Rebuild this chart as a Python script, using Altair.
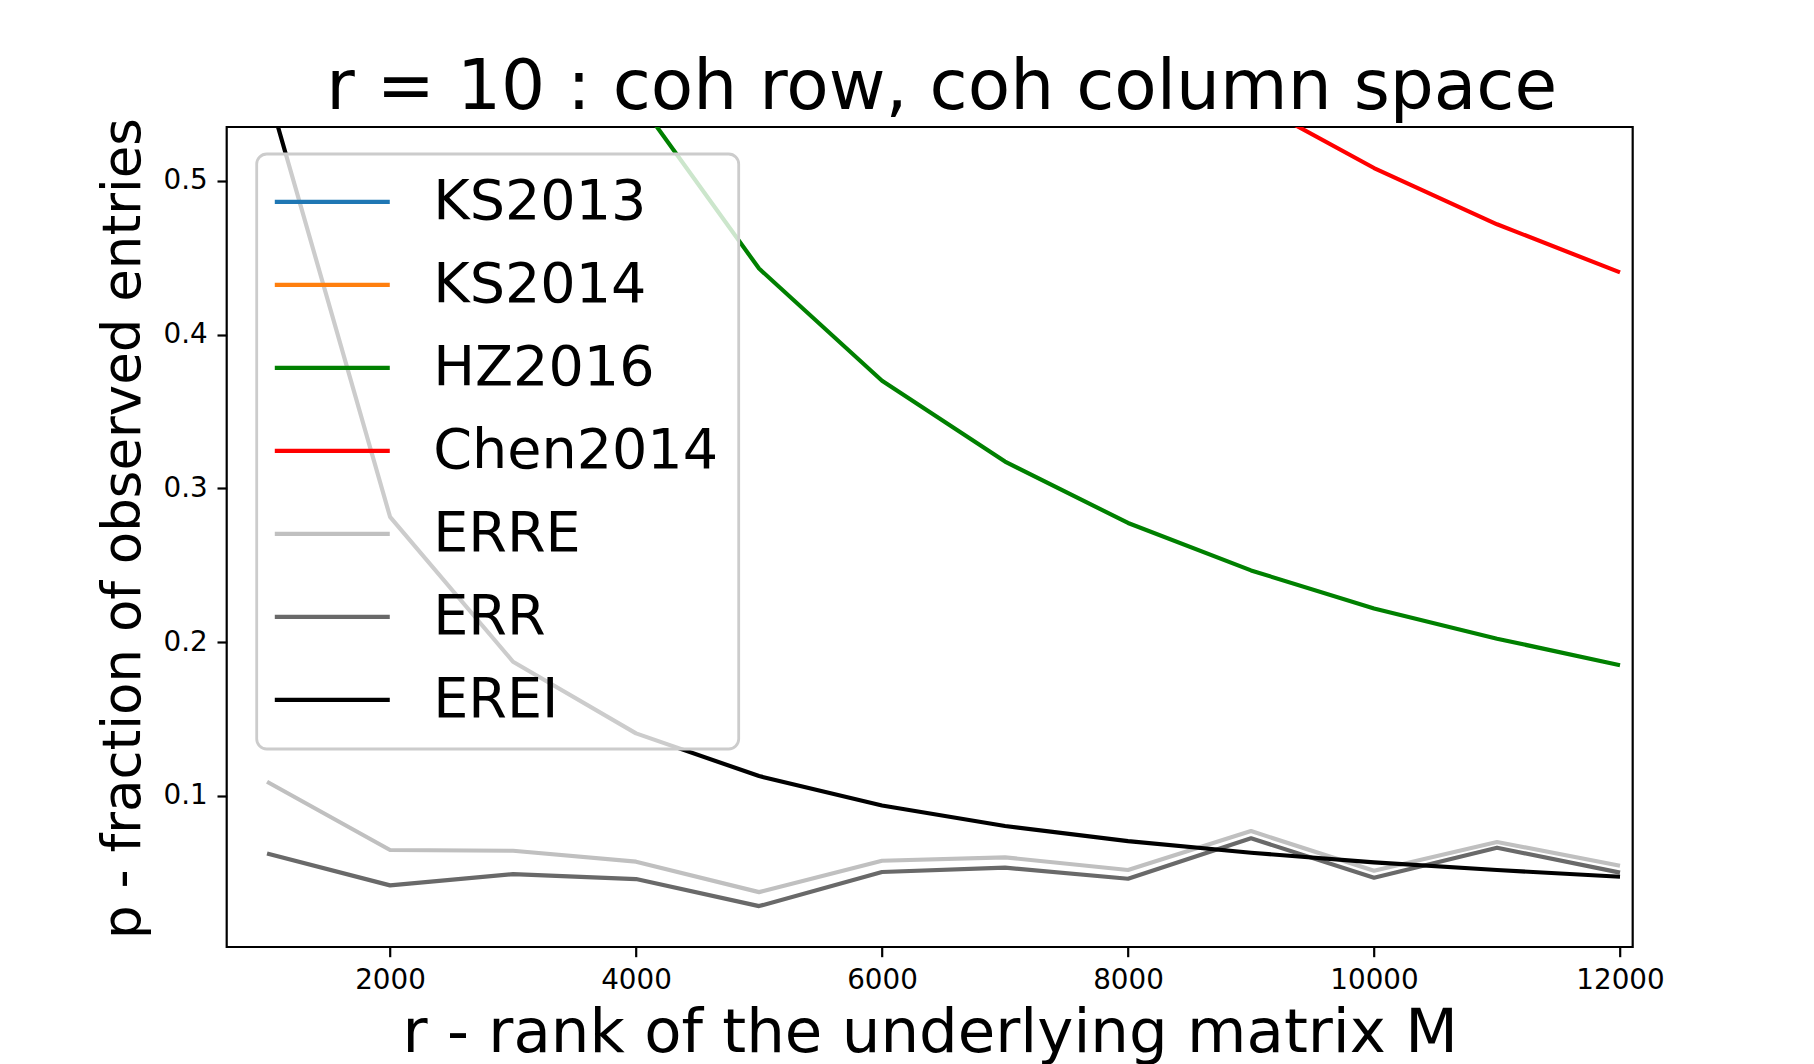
import altair as alt
import pandas as pd

# ---- data ----
ranks = [1000, 2000, 3000, 4000, 5000, 6000, 7000, 8000, 9000, 10000, 11000, 12000]

# KS2013 / KS2014 lie entirely above the visible range (clipped off the top)
ks2013 = [2.9, 2.3, 2.0, 1.8, 1.65, 1.55, 1.45, 1.38, 1.32, 1.27, 1.22, 1.18]
ks2014 = [2.4, 1.9, 1.6, 1.4, 1.25, 1.15, 1.07, 1.0, 0.95, 0.91, 0.87, 0.84]
hz2016 = [1.10, 0.85, 0.68, 0.554, 0.443, 0.370, 0.3174, 0.2775, 0.2466, 0.2218, 0.2022, 0.1849]
chen2014 = [1.6, 1.25, 1.05, 0.92, 0.82, 0.74, 0.67, 0.61, 0.552, 0.5084, 0.4718, 0.4405]
erre = [0.1091, 0.0647, 0.0642, 0.0571, 0.0373, 0.0577, 0.0599, 0.0517, 0.0770, 0.0512, 0.0699, 0.0545]
err = [0.0625, 0.0417, 0.0490, 0.0458, 0.0282, 0.0504, 0.0532, 0.0460, 0.0723, 0.0467, 0.0662, 0.0500]
erei = [0.560, 0.2815, 0.1872, 0.1406, 0.1128, 0.0937, 0.0803, 0.0705, 0.0629, 0.0567, 0.0517, 0.0473]

series_names = ["KS2013", "KS2014", "HZ2016", "Chen2014", "ERRE", "ERR", "EREI"]
series_values = [ks2013, ks2014, hz2016, chen2014, erre, err, erei]
series_colors = ["#1f77b4", "#ff7f0e", "#008000", "#ff0000", "#c0c0c0", "#696969", "#000000"]

x_ticks = [2000, 4000, 6000, 8000, 10000, 12000]
y_ticks = [0.1, 0.2, 0.3, 0.4, 0.5]

rows = []
for name, vals in zip(series_names, series_values):
    for r, p in zip(ranks, vals):
        rows.append({"series": name, "r": r, "p": p})
df = pd.DataFrame(rows)

FONT = "DejaVu Sans"

x_enc = alt.X(
    "r:Q",
    scale=alt.Scale(domain=[672, 12103], nice=False, zero=False),
    axis=alt.Axis(
        values=x_ticks, format="d", title="r - rank of the underlying matrix M",
        titleFontSize=61, titleBaseline="alphabetic", titleY=105,
    ),
)
y_enc = alt.Y(
    "p:Q",
    scale=alt.Scale(domain=[0.0016, 0.5351], nice=False, zero=False),
    axis=alt.Axis(
        values=y_ticks, format=".1f", title="p - fraction of observed entries",
        titleFontSize=53, titleBaseline="alphabetic", titleX=-86.7, titleY=401,
    ),
)
color_enc = alt.Color(
    "series:N",
    scale=alt.Scale(domain=series_names, range=series_colors),
    legend=alt.Legend(
        title=None, orient="none", legendX=30, legendY=27,
        symbolType="M-1.55,0H4.45", symbolSize=1469, symbolStrokeWidth=4.17,
        labelFontSize=55.6, labelFont=FONT, labelColor="black",
        labelOffset=100.9, rowPadding=26, padding=20,
        fillColor="rgba(255,255,255,0.8)", strokeColor="#cccccc", cornerRadius=10,
        labelLimit=0,
    ),
)

layers = []
for name in series_names:
    layers.append(
        alt.Chart(df)
        .transform_filter(alt.datum.series == name)
        .mark_line(strokeWidth=4.17, clip=True, strokeJoin="round")
        .encode(x=x_enc, y=y_enc, color=color_enc)
    )

chart = (
    alt.layer(*layers)
    .properties(
        width=1406, height=820,
        title=alt.TitleParams(
            "r = 10 : coh row, coh column space",
            fontSize=69.4, font=FONT, fontWeight="normal", color="black",
            baseline="alphabetic", offset=15, anchor="middle", dx=12, dy=76,
        ),
        autosize=alt.AutoSizeParams(type="none"),
        padding={"left": 218.7, "top": 119, "right": 170, "bottom": 117},
        background="white",
    )
    .configure_view(stroke="black", strokeWidth=2.2)
    .configure_axis(
        grid=False, domain=False, tickColor="black", tickWidth=2.2, tickSize=9.7,
        labelPadding=9.7, labelFontSize=27.8, labelFont=FONT, labelColor="black",
        titleFont=FONT, titleFontWeight="normal", titleColor="black",
    )
    .configure_legend(strokeWidth=2.8)
)

chart.save("out.html", embed_options={"renderer": "svg", "actions": False})
